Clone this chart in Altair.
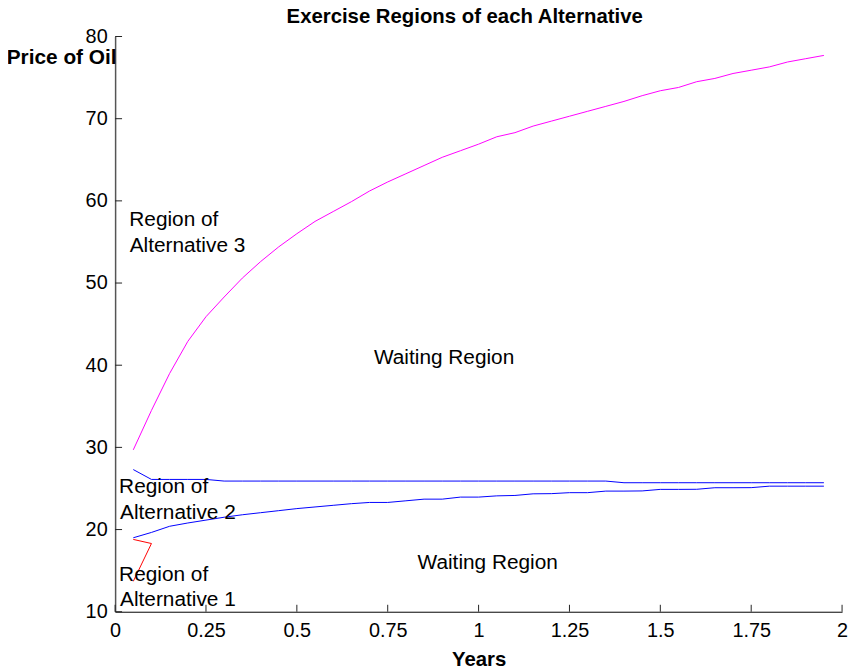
import altair as alt
import pandas as pd

# ---- data ----
years = [0.05, 0.10, 0.15, 0.20, 0.25, 0.30, 0.35, 0.40, 0.45, 0.50,
         0.55, 0.60, 0.65, 0.70, 0.75, 0.80, 0.85, 0.90, 0.95, 1.00,
         1.05, 1.10, 1.15, 1.20, 1.25, 1.30, 1.35, 1.40, 1.45, 1.50,
         1.55, 1.60, 1.65, 1.70, 1.75, 1.80, 1.85, 1.90, 1.95]

alt3_boundary = [29.7, 34.5, 39.0, 42.9, 45.9, 48.3, 50.6, 52.6, 54.4, 56.0,
                 57.5, 58.7, 59.9, 61.2, 62.3, 63.3, 64.3, 65.3, 66.1, 66.9,
                 67.8, 68.3, 69.1, 69.7, 70.3, 70.9, 71.5, 72.1, 72.8, 73.4,
                 73.8, 74.5, 74.9, 75.5, 75.9, 76.3, 76.9, 77.3, 77.7]

alt2_upper = [27.3, 26.1, 26.1, 26.1, 26.1, 25.9, 25.9, 25.9, 25.9, 25.9,
              25.9, 25.9, 25.9, 25.9, 25.9, 25.9, 25.9, 25.9, 25.9, 25.9,
              25.9, 25.9, 25.9, 25.9, 25.9, 25.9, 25.9, 25.7, 25.7, 25.7,
              25.7, 25.7, 25.7, 25.7, 25.7, 25.7, 25.7, 25.7, 25.7]

alt2_lower = [19.0, 19.65, 20.4, 20.8, 21.15, 21.5, 21.8, 22.05, 22.3, 22.55,
              22.75, 22.95, 23.15, 23.3, 23.3, 23.5, 23.7, 23.7, 23.95, 23.95,
              24.1, 24.15, 24.35, 24.37, 24.49, 24.49, 24.68, 24.68, 24.7, 24.89,
              24.89, 24.9, 25.09, 25.09, 25.1, 25.28, 25.28, 25.28, 25.28]

alt1_x = [0.05, 0.10, 0.05]
alt1_y = [18.8, 18.3, 13.7]

note_labels = ["Region of", "Alternative 3", "Waiting Region",
               "Region of", "Alternative 2", "Waiting Region",
               "Region of", "Alternative 1"]
note_x = [0.039, 0.040, 0.712, 0.011, 0.0136, 0.832, 0.011, 0.0136]
note_y = [56.9, 53.75, 40.18, 24.45, 21.3, 15.2, 13.75, 10.74]

x_ticks = [0, 0.25, 0.5, 0.75, 1, 1.25, 1.5, 1.75, 2]
y_ticks = [10, 20, 30, 40, 50, 60, 70, 80]

# ---- tables ----
df3 = pd.DataFrame({"t": years, "p": alt3_boundary})
dfu = pd.DataFrame({"t": years, "p": alt2_upper})
dfl = pd.DataFrame({"t": years, "p": alt2_lower})
df1 = pd.DataFrame({"t": alt1_x, "p": alt1_y, "i": list(range(len(alt1_x)))})
dfn = pd.DataFrame({"label": note_labels, "t": note_x, "p": note_y})
dfxt = pd.DataFrame({"t": x_ticks})
dfyt = pd.DataFrame({"p": y_ticks})

W, H = 733, 580
FONT = "Liberation Sans"

xs = alt.Scale(domain=[0, 2], nice=False, zero=False)
ys = alt.Scale(domain=[10, 80], nice=False, zero=False)

x_axis = alt.Axis(values=x_ticks, format=".3~g", ticks=False, grid=False,
                  labelFont=FONT, labelFontSize=20, labelColor="black",
                  labelPadding=9, labelFlush=False, labelOverlap=False,
                  domainColor="black", domainWidth=1,
                  title="Years", titleFont=FONT, titleFontSize=20.5,
                  titleFontWeight="bold", titleColor="black", titlePadding=9)

y_axis = alt.Axis(values=y_ticks, ticks=False, grid=False,
                  labelFont=FONT, labelFontSize=20, labelColor="black",
                  labelPadding=8, labelOverlap=False, labelFlush=False,
                  domainColor="#555555", domainWidth=1.5,
                  title="Price of Oil", titleFont=FONT, titleFontSize=21,
                  titleFontWeight="bold", titleColor="black", titleAngle=0,
                  titleAlign="right", titleBaseline="alphabetic",
                  titleX=1, titleY=27.5)

X = alt.X("t:Q", scale=xs, axis=x_axis)
Y = alt.Y("p:Q", scale=ys, axis=y_axis)

magenta = alt.Chart(df3).mark_line(color="#ff00ff", strokeWidth=1).encode(x=X, y=Y)
upper = alt.Chart(dfu).mark_line(color="#0000ff", strokeWidth=1).encode(x=X, y=Y)
lower = alt.Chart(dfl).mark_line(color="#0000ff", strokeWidth=1).encode(x=X, y=Y)
red = alt.Chart(df1).mark_line(color="#ff0000", strokeWidth=1).encode(
    x=X, y=Y, order="i:Q")

notes = alt.Chart(dfn).mark_text(align="left", baseline="alphabetic", font=FONT,
                                 fontSize=21, color="black").encode(
    x=X, y=Y, text="label:N")

xt = alt.Chart(dfxt).mark_rule(color="#222222", strokeWidth=1).encode(
    x=X, y=alt.value(H), y2=alt.value(H - 7))
yt = alt.Chart(dfyt).mark_rule(color="#222222", strokeWidth=1).encode(
    y=Y, x=alt.value(0), x2=alt.value(7))

chart = alt.layer(magenta, upper, lower, red, notes, xt, yt).properties(
    width=W,
    height=H,
    background="white",
    title=alt.TitleParams("Exercise Regions of each Alternative", font=FONT,
                          fontSize=20.5, fontWeight="bold", color="black",
                          anchor="middle", frame="group", dx=-14, dy=21,
                          baseline="alphabetic", offset=4),
    autosize=alt.AutoSizeParams(type="none"),
    padding={"left": 108, "top": 26, "right": 8, "bottom": 56},
).configure_view(stroke=None)

chart.save("out.html", embed_options={"renderer": "svg", "actions": False})
